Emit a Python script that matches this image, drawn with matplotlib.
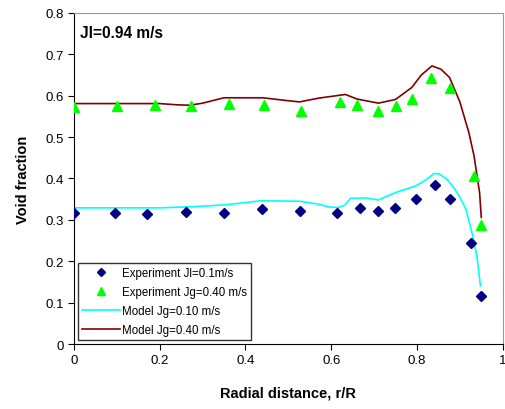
"""Void fraction radial profiles: experiment vs. model."""

import matplotlib

matplotlib.use("Agg")
import matplotlib.pyplot as plt

plt.rcParams["font.family"] = ["Liberation Sans", "DejaVu Sans"]

# Experiment, Jg=0.10 m/s (diamonds)
exp_lo_r = [0.0, 0.095, 0.171, 0.262, 0.35, 0.438, 0.526, 0.613, 0.667,
            0.71, 0.748, 0.798, 0.842, 0.876, 0.926, 0.95]
exp_lo_a = [0.316, 0.316, 0.315, 0.319, 0.316, 0.326, 0.322, 0.316, 0.329,
            0.322, 0.329, 0.350, 0.385, 0.350, 0.245, 0.116]

# Experiment, Jg=0.40 m/s (triangles)
exp_hi_r = [0.0, 0.101, 0.189, 0.274, 0.361, 0.444, 0.529, 0.62, 0.66,
            0.71, 0.75, 0.788, 0.832, 0.876, 0.933, 0.95]
exp_hi_a = [0.572, 0.576, 0.578, 0.575, 0.579, 0.578, 0.563, 0.585, 0.578,
            0.563, 0.576, 0.593, 0.642, 0.618, 0.406, 0.287]

# Model, Jg=0.10 m/s
mod_lo_r = [0.0, 0.1, 0.2, 0.28, 0.35, 0.435, 0.526, 0.57, 0.595, 0.617,
            0.632, 0.645, 0.68, 0.71, 0.75, 0.797, 0.82, 0.84, 0.852, 0.868,
            0.883, 0.9, 0.914, 0.93, 0.94, 0.948]
mod_lo_a = [0.329, 0.329, 0.329, 0.332, 0.336, 0.346, 0.345, 0.338, 0.331,
            0.330, 0.336, 0.352, 0.353, 0.348, 0.366, 0.382, 0.396, 0.412,
            0.411, 0.400, 0.382, 0.355, 0.326, 0.262, 0.210, 0.141]

# Model, Jg=0.40 m/s
mod_hi_r = [0.0, 0.1, 0.2, 0.24, 0.27, 0.3, 0.35, 0.44, 0.49, 0.526, 0.57,
            0.633, 0.66, 0.71, 0.75, 0.788, 0.81, 0.835, 0.856, 0.876, 0.9,
            0.921, 0.933, 0.946, 0.95]
mod_hi_a = [0.581, 0.581, 0.581, 0.578, 0.577, 0.582, 0.595, 0.595, 0.589,
            0.585, 0.594, 0.603, 0.592, 0.582, 0.591, 0.620, 0.650, 0.672,
            0.664, 0.644, 0.585, 0.511, 0.455, 0.366, 0.306]

fig = plt.figure(figsize=(5.05, 4.1), dpi=100)
ax = fig.add_axes([0.1465, 0.1585, 0.849, 0.8075])

ax.plot(exp_lo_r, exp_lo_a, "D", color="#000080", ms=5.5, ls="none",
        label="Experiment Jl=0.1m/s", zorder=3)
ax.plot(exp_hi_r, exp_hi_a, "^", color="#00FF00", ms=7.5, ls="none",
        label="Experiment Jg=0.40 m/s", zorder=3)
ax.plot(mod_lo_r, mod_lo_a, color="#00FFFF", lw=1.2,
        label="Model Jg=0.10 m/s", zorder=2)
ax.plot(mod_hi_r, mod_hi_a, color="#800000", lw=1.2,
        label="Model Jg=0.40 m/s", zorder=2)

ax.set_xlim(0, 1)
ax.set_ylim(0, 0.8)
ax.set_xticks([0, 0.2, 0.4, 0.6, 0.8, 1])
ax.set_xticklabels(["0", "0.2", "0.4", "0.6", "0.8", "1"])
ax.set_yticks([0, 0.1, 0.2, 0.3, 0.4, 0.5, 0.6, 0.7, 0.8])
ax.set_yticklabels(["0", "0.1", "0.2", "0.3", "0.4", "0.5", "0.6", "0.7", "0.8"])
ax.tick_params(direction="out", length=4, width=0.8, labelsize=9.5)

for side in ("top", "right"):
    ax.spines[side].set_color("#999999")
for side in ("left", "bottom"):
    ax.spines[side].set_color("black")

ax.set_xlabel("Radial distance, r/R", fontsize=10.5, fontweight="bold", labelpad=14)
ax.set_ylabel("Void fraction", fontsize=10.5, fontweight="bold", labelpad=11)

ax.text(0.014, 0.94, "Jl=0.94 m/s", transform=ax.transAxes, fontsize=11.2,
        fontweight="bold", va="center")

ax.legend(loc="lower left", bbox_to_anchor=(0.009, 0.012), fontsize=8.3,
          frameon=True, fancybox=False, edgecolor="black", handlelength=3.3,
          markerscale=0.8, borderpad=0.35, labelspacing=0.62,
          handletextpad=0.2, borderaxespad=0)

fig.savefig("out.png", dpi=100)
